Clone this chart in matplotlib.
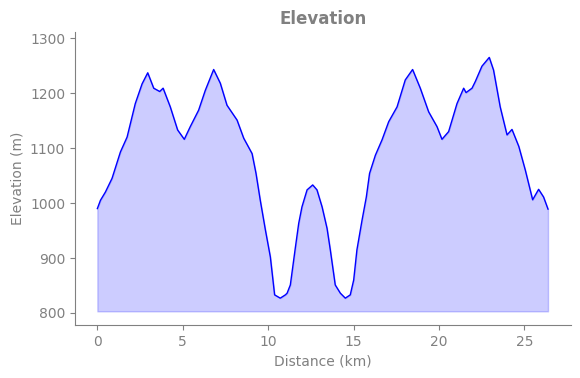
import matplotlib
matplotlib.use("Agg")
import matplotlib.pyplot as plt

# elevation profile
distance_km = [
    0.00, 0.18, 0.47, 0.86, 1.35, 1.74, 2.22, 2.62, 2.95, 3.30, 3.65, 3.85,
    4.27, 4.70, 5.09, 5.44, 5.93, 6.32, 6.81, 7.20, 7.59, 8.18, 8.57, 9.06,
    9.29, 9.54, 9.84, 10.13, 10.38, 10.71, 11.01, 11.11, 11.30, 11.59, 11.79,
    11.98, 12.28, 12.61, 12.86, 13.16, 13.45, 13.64, 13.93, 14.23, 14.52,
    14.81, 15.01, 15.20, 15.50, 15.75, 15.94, 16.28, 16.67, 17.06, 17.55,
    18.03, 18.46, 18.91, 19.40, 19.89, 20.18, 20.57, 21.06, 21.45, 21.59,
    21.94, 22.13, 22.52, 22.95, 23.20, 23.59, 23.99, 24.28, 24.68, 25.06,
    25.49, 25.84, 26.13, 26.39,
]
elevation_m = [
    990, 1005, 1020, 1045, 1093, 1120, 1181, 1217, 1237, 1209, 1203, 1209,
    1175, 1133, 1116, 1139, 1169, 1205, 1243, 1218, 1178, 1151, 1118, 1090,
    1054, 1005, 951, 902, 833, 827, 833, 836, 851, 918, 963,
    993, 1024, 1033, 1024, 993, 954, 915, 851, 836, 827,
    833, 860, 915, 969, 1011, 1054, 1087, 1115, 1148, 1175,
    1224, 1243, 1209, 1166, 1139, 1116, 1130, 1181, 1209, 1201,
    1209, 1221, 1249, 1265, 1242, 1175, 1124, 1134, 1103, 1060,
    1006, 1025, 1011, 989,
]
fill_base = 803

GREY = "#808080"

fig = plt.figure(figsize=(5.8, 3.78), dpi=100)
ax = fig.add_axes([0.129, 0.140, 0.855, 0.775])

ax.fill_between(distance_km, elevation_m, fill_base, color="blue", alpha=0.2)
ax.plot(distance_km, elevation_m, color="blue", linewidth=1)

ax.set_xlim(-1.32, 27.72)
ax.set_ylim(778, 1311)
ax.set_xticks([0, 5, 10, 15, 20, 25])
ax.set_yticks([800, 900, 1000, 1100, 1200, 1300])

ax.set_title("Elevation", color=GREY, fontsize=12, fontweight="bold")
ax.set_xlabel("Distance (km)", color=GREY)
ax.set_ylabel("Elevation (m)", color=GREY)

for side in ["top", "right"]:
    ax.spines[side].set_visible(False)
for side in ["left", "bottom"]:
    ax.spines[side].set_color(GREY)
ax.tick_params(colors=GREY)

fig.savefig("out.png", dpi=100)
